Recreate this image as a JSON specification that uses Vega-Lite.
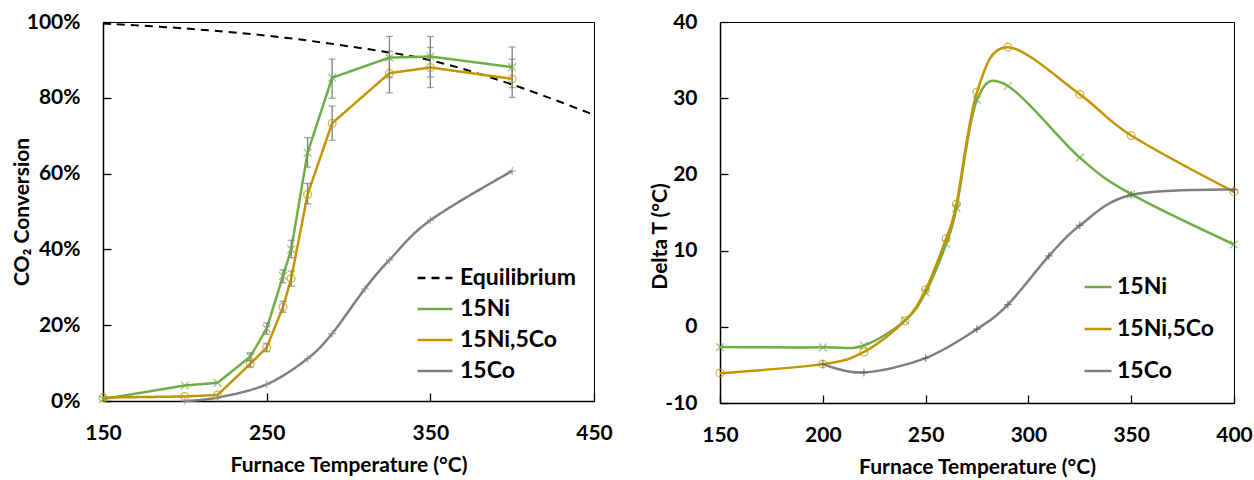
{
"$schema": "https://vega.github.io/schema/vega-lite/v6.json",
"padding": {"left": 10, "top": 10, "right": 0, "bottom": 0},
"config": {
  "font": "Lato",
  "view": {"stroke": "#000", "strokeWidth": 1},
  "axis": {"grid": false, "domainColor": "#000", "domainWidth": 1.5, "tickColor": "#000", "tickWidth": 1.3, "tickSize": -8, "labelFont": "Lato", "labelFontWeight": "bold", "labelFontSize": 21, "labelColor": "#000", "titleFont": "Lato", "titleFontWeight": "bold", "titleFontSize": 21, "titleColor": "#000", "labelFlush": false},
  "axisX": {"labelPadding": 29, "titlePadding": 11},
  "axisY": {"labelPadding": 31, "titlePadding": -6},
  "legend": {"labelFont": "Lato", "labelFontWeight": "bold", "labelFontSize": 23, "labelColor": "#000", "symbolType": "stroke", "symbolStrokeWidth": 2.5}
},
"datasets": {
  "eq": [
    {"T": 150, "series": "Equilibrium", "v": 0.996},
    {"T": 200, "series": "Equilibrium", "v": 0.983},
    {"T": 250, "series": "Equilibrium", "v": 0.964},
    {"T": 300, "series": "Equilibrium", "v": 0.936},
    {"T": 350, "series": "Equilibrium", "v": 0.899},
    {"T": 400, "series": "Equilibrium", "v": 0.835},
    {"T": 450, "series": "Equilibrium", "v": 0.755}
  ],
  "conv": [
    {"T": 150, "series": "15Ni", "v": 0.005},
    {"T": 200, "series": "15Ni", "v": 0.041},
    {"T": 220, "series": "15Ni", "v": 0.048},
    {"T": 240, "series": "15Ni", "v": 0.117},
    {"T": 250, "series": "15Ni", "v": 0.191},
    {"T": 260, "series": "15Ni", "v": 0.33},
    {"T": 265, "series": "15Ni", "v": 0.40},
    {"T": 275, "series": "15Ni", "v": 0.655},
    {"T": 290, "series": "15Ni", "v": 0.853},
    {"T": 325, "series": "15Ni", "v": 0.906},
    {"T": 350, "series": "15Ni", "v": 0.909},
    {"T": 400, "series": "15Ni", "v": 0.881},
    {"T": 150, "series": "15Ni,5Co", "v": 0.009},
    {"T": 200, "series": "15Ni,5Co", "v": 0.012},
    {"T": 220, "series": "15Ni,5Co", "v": 0.016},
    {"T": 240, "series": "15Ni,5Co", "v": 0.098},
    {"T": 250, "series": "15Ni,5Co", "v": 0.141},
    {"T": 260, "series": "15Ni,5Co", "v": 0.248},
    {"T": 265, "series": "15Ni,5Co", "v": 0.323},
    {"T": 275, "series": "15Ni,5Co", "v": 0.545},
    {"T": 290, "series": "15Ni,5Co", "v": 0.733},
    {"T": 325, "series": "15Ni,5Co", "v": 0.865},
    {"T": 350, "series": "15Ni,5Co", "v": 0.88},
    {"T": 400, "series": "15Ni,5Co", "v": 0.85},
    {"T": 200, "series": "15Co", "v": 0.0},
    {"T": 220, "series": "15Co", "v": 0.009},
    {"T": 250, "series": "15Co", "v": 0.044},
    {"T": 275, "series": "15Co", "v": 0.112},
    {"T": 290, "series": "15Co", "v": 0.178},
    {"T": 310, "series": "15Co", "v": 0.296},
    {"T": 325, "series": "15Co", "v": 0.372},
    {"T": 350, "series": "15Co", "v": 0.477},
    {"T": 400, "series": "15Co", "v": 0.607}
  ],
  "err": [
    {"T": 240, "series": "15Ni", "lo": 0.107, "hi": 0.127},
    {"T": 250, "series": "15Ni", "lo": 0.176, "hi": 0.206},
    {"T": 260, "series": "15Ni", "lo": 0.312, "hi": 0.346},
    {"T": 265, "series": "15Ni", "lo": 0.378, "hi": 0.424},
    {"T": 275, "series": "15Ni", "lo": 0.617, "hi": 0.695},
    {"T": 290, "series": "15Ni", "lo": 0.799, "hi": 0.902},
    {"T": 325, "series": "15Ni", "lo": 0.853, "hi": 0.962},
    {"T": 350, "series": "15Ni", "lo": 0.855, "hi": 0.962},
    {"T": 400, "series": "15Ni", "lo": 0.827, "hi": 0.934},
    {"T": 240, "series": "15Ni,5Co", "lo": 0.09, "hi": 0.106},
    {"T": 250, "series": "15Ni,5Co", "lo": 0.13, "hi": 0.152},
    {"T": 260, "series": "15Ni,5Co", "lo": 0.234, "hi": 0.263},
    {"T": 265, "series": "15Ni,5Co", "lo": 0.303, "hi": 0.343},
    {"T": 275, "series": "15Ni,5Co", "lo": 0.52, "hi": 0.574},
    {"T": 290, "series": "15Ni,5Co", "lo": 0.688, "hi": 0.778},
    {"T": 325, "series": "15Ni,5Co", "lo": 0.813, "hi": 0.923},
    {"T": 350, "series": "15Ni,5Co", "lo": 0.827, "hi": 0.933},
    {"T": 400, "series": "15Ni,5Co", "lo": 0.801, "hi": 0.902}
  ],
  "dt": [
    {"T": 150, "series": "15Ni", "v": -2.66},
    {"T": 200, "series": "15Ni", "v": -2.7},
    {"T": 220, "series": "15Ni", "v": -2.45},
    {"T": 240, "series": "15Ni", "v": 0.84},
    {"T": 250, "series": "15Ni", "v": 4.5},
    {"T": 260, "series": "15Ni", "v": 10.9},
    {"T": 265, "series": "15Ni", "v": 15.6},
    {"T": 275, "series": "15Ni", "v": 29.8},
    {"T": 290, "series": "15Ni", "v": 31.6},
    {"T": 325, "series": "15Ni", "v": 22.2},
    {"T": 350, "series": "15Ni", "v": 17.4},
    {"T": 400, "series": "15Ni", "v": 10.8},
    {"T": 150, "series": "15Ni,5Co", "v": -6.08},
    {"T": 200, "series": "15Ni,5Co", "v": -4.9},
    {"T": 220, "series": "15Ni,5Co", "v": -3.3},
    {"T": 240, "series": "15Ni,5Co", "v": 0.8},
    {"T": 250, "series": "15Ni,5Co", "v": 4.86},
    {"T": 260, "series": "15Ni,5Co", "v": 11.6},
    {"T": 265, "series": "15Ni,5Co", "v": 16.1},
    {"T": 275, "series": "15Ni,5Co", "v": 30.8},
    {"T": 290, "series": "15Ni,5Co", "v": 36.7},
    {"T": 325, "series": "15Ni,5Co", "v": 30.5},
    {"T": 350, "series": "15Ni,5Co", "v": 25.1},
    {"T": 400, "series": "15Ni,5Co", "v": 17.7},
    {"T": 200, "series": "15Co", "v": -4.9},
    {"T": 220, "series": "15Co", "v": -6.0},
    {"T": 250, "series": "15Co", "v": -4.1},
    {"T": 275, "series": "15Co", "v": -0.3},
    {"T": 290, "series": "15Co", "v": 2.9},
    {"T": 310, "series": "15Co", "v": 9.3},
    {"T": 325, "series": "15Co", "v": 13.3},
    {"T": 350, "series": "15Co", "v": 17.3},
    {"T": 400, "series": "15Co", "v": 18.0}
  ]
},
"spacing": 36,
"resolve": {"scale": {"x": "independent", "y": "independent", "color": "independent", "strokeDash": "independent"}, "legend": {"color": "independent", "strokeDash": "independent"}},
"hconcat": [
  {
    "width": 491, "height": 379,
    "layer": [
      {
        "data": {"name": "eq"},
        "mark": {"type": "line", "interpolate": "cardinal", "strokeWidth": 2},
        "encoding": {
          "x": {"field": "T", "type": "quantitative", "scale": {"domain": [150, 450], "nice": false, "zero": false}, "title": "Furnace Temperature (°C)", "axis": {"values": [150, 250, 350, 450]}},
          "y": {"field": "v", "type": "quantitative", "scale": {"domain": [0, 1], "nice": false}, "title": "CO₂ Conversion", "axis": {"values": [0, 0.1, 0.2, 0.3, 0.4, 0.5, 0.6, 0.7, 0.8, 0.9, 1], "labelExpr": "round(datum.value*10) % 2 == 0 ? format(datum.value, '.0%') : ''"}},
          "color": {"field": "series", "type": "nominal", "scale": {"domain": ["Equilibrium", "15Ni", "15Ni,5Co", "15Co"], "range": ["#000000", "#70AD47", "#C59500", "#7F7F7F"]}, "legend": {"title": null, "orient": "bottom-right", "offset": 18, "rowPadding": 0, "symbolSize": 1225, "labelOffset": 6, "symbolType": "stroke", "symbolStrokeWidth": 2.5}},
          "strokeDash": {"field": "series", "type": "nominal", "scale": {"domain": ["Equilibrium", "15Ni", "15Ni,5Co", "15Co"], "range": [[8, 6], [1, 0], [1, 0], [1, 0]]}, "legend": {"title": null, "orient": "bottom-right", "offset": 18, "rowPadding": 0, "symbolSize": 1225, "labelOffset": 6, "symbolType": "stroke"}}
        }
      },
      {
        "data": {"name": "conv"},
        "transform": [{"filter": "datum.series != '15Co'"}],
        "mark": {"type": "line", "strokeWidth": 2.5},
        "encoding": {
          "x": {"field": "T", "type": "quantitative", "title": "Furnace Temperature (°C)"},
          "y": {"field": "v", "type": "quantitative", "title": "CO₂ Conversion"},
          "color": {"field": "series", "type": "nominal"},
          "strokeDash": {"field": "series", "type": "nominal"}
        }
      },
      {
        "data": {"name": "conv"},
        "transform": [{"filter": "datum.series == '15Co'"}],
        "mark": {"type": "line", "strokeWidth": 2.5, "interpolate": "cardinal"},
        "encoding": {
          "x": {"field": "T", "type": "quantitative", "title": "Furnace Temperature (°C)"},
          "y": {"field": "v", "type": "quantitative", "title": "CO₂ Conversion"},
          "color": {"field": "series", "type": "nominal"},
          "strokeDash": {"field": "series", "type": "nominal"}
        }
      },
      {
        "data": {"name": "err"},
        "mark": {"type": "errorbar", "ticks": true, "size": 7, "thickness": 1.3, "color": "#7F7F7F"},
        "encoding": {
          "x": {"field": "T", "type": "quantitative", "title": "Furnace Temperature (°C)"},
          "y": {"field": "lo", "type": "quantitative", "title": "CO₂ Conversion"},
          "y2": {"field": "hi"}
        }
      },
      {
        "data": {"name": "conv"},
        "transform": [{"filter": "datum.series == '15Ni'"}],
        "mark": {"type": "point", "filled": false, "strokeWidth": 1.3, "size": 60, "shape": "M-1,-1L1,1M-1,1L1,-1", "stroke": "#70AD47"},
        "encoding": {
          "x": {"field": "T", "type": "quantitative", "title": "Furnace Temperature (°C)"},
          "y": {"field": "v", "type": "quantitative", "title": "CO₂ Conversion"}
        }
      },
      {
        "data": {"name": "conv"},
        "transform": [{"filter": "datum.series == '15Ni,5Co'"}],
        "mark": {"type": "point", "filled": false, "strokeWidth": 1.3, "size": 60, "shape": "circle", "stroke": "#C59500"},
        "encoding": {
          "x": {"field": "T", "type": "quantitative", "title": "Furnace Temperature (°C)"},
          "y": {"field": "v", "type": "quantitative", "title": "CO₂ Conversion"}
        }
      },
      {
        "data": {"name": "conv"},
        "transform": [{"filter": "datum.series == '15Co'"}],
        "mark": {"type": "point", "filled": false, "strokeWidth": 1.3, "size": 60, "shape": "M-1,0L1,0M0,-1L0,1", "stroke": "#8497B0"},
        "encoding": {
          "x": {"field": "T", "type": "quantitative", "title": "Furnace Temperature (°C)"},
          "y": {"field": "v", "type": "quantitative", "title": "CO₂ Conversion"}
        }
      }
    ]
  },
  {
    "width": 514, "height": 381,
    "data": {"name": "dt"},
    "layer": [
      {
        "mark": {"type": "line", "interpolate": "cardinal", "strokeWidth": 2.5},
        "encoding": {
          "x": {"field": "T", "type": "quantitative", "scale": {"domain": [150, 400], "nice": false, "zero": false}, "title": "Furnace Temperature (°C)", "axis": {"values": [150, 200, 250, 300, 350, 400]}},
          "y": {"field": "v", "type": "quantitative", "scale": {"domain": [-10, 40], "nice": false}, "title": "Delta T (°C)", "axis": {"values": [-10, -5, 0, 5, 10, 15, 20, 25, 30, 35, 40], "labelExpr": "datum.value % 10 == 0 ? '' + datum.value : ''", "titleY": 214}},
          "color": {"field": "series", "type": "nominal", "scale": {"domain": ["15Ni", "15Ni,5Co", "15Co"], "range": ["#70AD47", "#C59500", "#7F7F7F"]}, "legend": {"title": null, "orient": "bottom-right", "offset": 20, "rowPadding": 15, "symbolSize": 730, "labelOffset": 4, "symbolType": "stroke", "symbolStrokeWidth": 2.5}}
        }
      },
      {
        "transform": [{"filter": "datum.series == '15Ni'"}],
        "mark": {"type": "point", "filled": false, "strokeWidth": 1.3, "size": 60, "shape": "M-1,-1L1,1M-1,1L1,-1", "stroke": "#70AD47"},
        "encoding": {
          "x": {"field": "T", "type": "quantitative", "title": "Furnace Temperature (°C)"},
          "y": {"field": "v", "type": "quantitative", "title": "Delta T (°C)"}
        }
      },
      {
        "transform": [{"filter": "datum.series == '15Ni,5Co'"}],
        "mark": {"type": "point", "filled": false, "strokeWidth": 1.3, "size": 60, "shape": "circle", "stroke": "#C59500"},
        "encoding": {
          "x": {"field": "T", "type": "quantitative", "title": "Furnace Temperature (°C)"},
          "y": {"field": "v", "type": "quantitative", "title": "Delta T (°C)"}
        }
      },
      {
        "transform": [{"filter": "datum.series == '15Co'"}],
        "mark": {"type": "point", "filled": false, "strokeWidth": 1.3, "size": 60, "shape": "M-1,0L1,0M0,-1L0,1", "stroke": "#5F5F5F"},
        "encoding": {
          "x": {"field": "T", "type": "quantitative", "title": "Furnace Temperature (°C)"},
          "y": {"field": "v", "type": "quantitative", "title": "Delta T (°C)"}
        }
      }
    ]
  }
]
}
